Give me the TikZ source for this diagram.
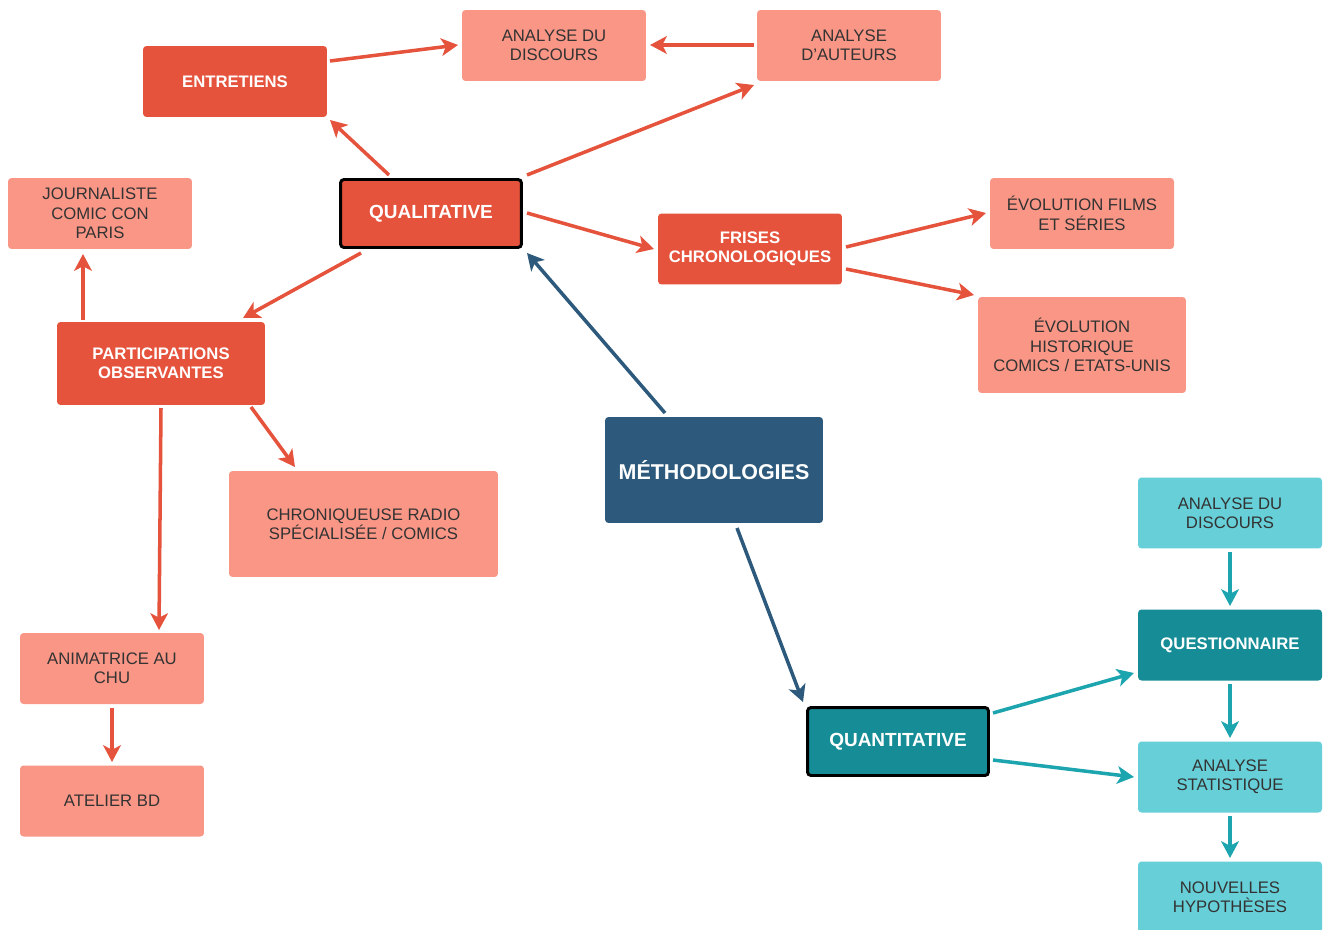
\documentclass[tikz,border=0pt]{standalone}
\usepackage{fontspec}
\setmainfont{Liberation Sans}
\usetikzlibrary{arrows.meta,calc}
\definecolor{cred}{HTML}{E5533D}
\definecolor{csalmon}{HTML}{FA9686}
\definecolor{cnavy}{HTML}{2D5A7C}
\definecolor{cteal}{HTML}{168D96}
\definecolor{ccyan}{HTML}{66CFD8}
\definecolor{carrteal}{HTML}{1CA4AF}
\definecolor{ctext}{HTML}{333333}
\begin{document}
\begin{tikzpicture}[x=0.02cm,y=-0.02cm,
  box/.style={rectangle,rounded corners=2pt,inner sep=0pt,align=center,
    minimum width=3.68cm,minimum height=1.42cm},
  light/.style={box,fill=csalmon,text=ctext,font=\fontsize{9.5}{11}\selectfont},
  darkbox/.style={box,fill=cred,text=white,font=\bfseries\fontsize{9.5}{11}\selectfont},
  cyanbox/.style={box,fill=ccyan,text=ctext,font=\fontsize{9.5}{11}\selectfont},
  tealbox/.style={box,fill=cteal,text=white,font=\bfseries\fontsize{9.5}{11}\selectfont},
  mainbox/.style={box,draw=black,line width=1.7pt,text=white,
    minimum width=3.62cm,minimum height=1.36cm,font=\bfseries\fontsize{10.8}{12}\selectfont},
  tip/.style={-{Stealth[length=9.5pt,width=10pt,inset=2.5pt]},line width=2pt},
  redarr/.style={tip,cred},
  navyarr/.style={tip,cnavy},
  tealarr/.style={tip,carrteal},
]
\clip (0,0) rectangle (1324,929);
\fill[white] (0,0) rectangle (1324,929);

% nodes
\node[darkbox] (ent) at (235,81.5) {ENTRETIENS};
\node[light] (ad1) at (554,45.5) {ANALYSE DU\\DISCOURS};
\node[light] (aut) at (849,45.5) {ANALYSE\\D'AUTEURS};
\node[light] (jour) at (100,213.5) {JOURNALISTE\\COMIC CON\\PARIS};
\node[mainbox,fill=cred] (qual) at (431,213.5) {QUALITATIVE};
\node[darkbox] (fris) at (750,249) {FRISES\\CHRONOLOGIQUES};
\node[light] (films) at (1082,213.5) {ÉVOLUTION FILMS\\ET SÉRIES};
\node[light,minimum width=4.16cm,minimum height=1.92cm] (hist) at (1082,345) {ÉVOLUTION\\HISTORIQUE\\COMICS / ETATS-UNIS};
\node[darkbox,minimum width=4.16cm,minimum height=1.66cm] (part) at (161,363.5) {PARTICIPATIONS\\OBSERVANTES};
\node[light,minimum width=5.38cm,minimum height=2.12cm] (chron) at (363.5,524) {CHRONIQUEUSE RADIO\\SPÉCIALISÉE / COMICS};
\node[box,fill=cnavy,text=white,minimum width=4.36cm,minimum height=2.12cm,
  font=\bfseries\fontsize{12.2}{14}\selectfont] (meth) at (714,470) {MÉTHODOLOGIES};
\node[light] (anim) at (112,668.5) {ANIMATRICE AU\\CHU};
\node[light] (atel) at (112,801) {ATELIER BD};
\node[cyanbox] (adc) at (1230,513) {ANALYSE DU\\DISCOURS};
\node[tealbox] (quest) at (1230,645) {QUESTIONNAIRE};
\node[cyanbox] (stat) at (1230,777) {ANALYSE\\STATISTIQUE};
\node[cyanbox] (nouv) at (1230,897) {NOUVELLES\\HYPOTHÈSES};
\node[mainbox,fill=cteal] (quant) at (898,741.5) {QUANTITATIVE};

% connectors
\draw[redarr] ($(ent)+(95,-20.5)$) -- ($(ad1)+(-96,-0.5)$);
\draw[redarr] ($(aut)+(-95,-0.5)$) -- ($(ad1)+(96,-0.5)$);
\draw[redarr] ($(qual)+(-42,-38.5)$) -- ($(ent)+(95,38.5)$);
\draw[redarr] ($(qual)+(96,-38.5)$) -- ($(aut)+(-95,39.5)$);
\draw[redarr] ($(qual)+(96,-0.5)$) -- ($(fris)+(-96,0)$);
\draw[redarr] ($(qual)+(-70,39.5)$) -- ($(part)+(82,-45.5)$);
\draw[redarr] ($(part)+(-78,-43.5)$) -- ($(jour)+(-17,40.5)$);
\draw[redarr] ($(part)+(90,43.5)$) -- ($(chron)+(-68.5,-57)$);
\draw[redarr] ($(part)+(0,44.5)$) -- ($(anim)+(47,-38.5)$);
\draw[redarr] ($(anim)+(0,39.5)$) -- ($(atel)+(0,-39)$);
\draw[redarr] ($(fris)+(96,-2)$) -- ($(films)+(-96,-0.5)$);
\draw[redarr] ($(fris)+(96,20)$) -- ($(hist)+(-108,-50)$);
\draw[navyarr] ($(meth)+(-49,-57)$) -- ($(qual)+(96,39.5)$);
\draw[navyarr] ($(meth)+(23,58)$) -- ($(quant)+(-95,-39.5)$);
\draw[tealarr] ($(quant)+(95,-28.5)$) -- ($(quest)+(-96,28)$);
\draw[tealarr] ($(quant)+(95,18.5)$) -- ($(stat)+(-96,0)$);
\draw[tealarr] ($(adc)+(0,39)$) -- ($(quest)+(0,-39)$);
\draw[tealarr] ($(quest)+(0,39)$) -- ($(stat)+(0,-39)$);
\draw[tealarr] ($(stat)+(0,39)$) -- ($(nouv)+(0,-39)$);
\end{tikzpicture}
\end{document}
